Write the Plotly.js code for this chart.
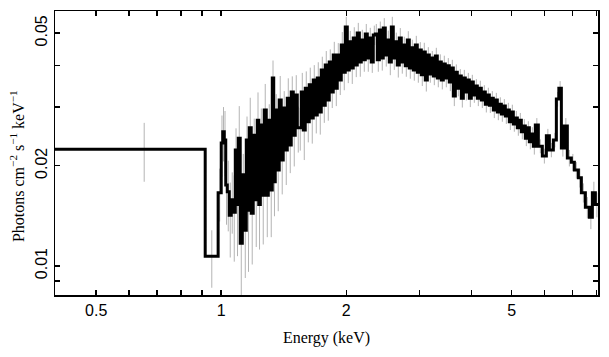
<!DOCTYPE html>
<html>
<head>
<meta charset="utf-8">
<script src="https://cdn.plot.ly/plotly-3.0.1.min.js"></script>
<style>html,body{margin:0;padding:0;background:#fff;}#chart{width:609px;height:357px;}</style>
</head>
<body>
<div id="chart"></div>
<script>
// Bin edges (keV)
const binEdges = [0.39, 0.915, 0.983,
  1.000, 1.0083, 1.017, 1.0253, 1.034, 1.0454, 1.057, 1.0688, 1.081, 1.0898, 1.099, 1.1110, 1.124, 1.1360, 1.149, 1.1583,
  1.168, 1.1808, 1.194, 1.2073, 1.221, 1.2311, 1.242, 1.2553, 1.269, 1.2835, 1.298, 1.3118, 1.327, 1.3376, 1.349, 1.3638,
  1.379, 1.3944, 1.410, 1.4256, 1.442, 1.4579, 1.474, 1.4909, 1.507, 1.5241, 1.541, 1.5582, 1.576, 1.5931, 1.611, 1.6288,
  1.647, 1.6654, 1.684, 1.7027, 1.722, 1.7409, 1.761, 1.7799, 1.800, 1.8198, 1.840, 1.8605, 1.882, 1.9023, 1.924, 1.9450,
  1.967, 1.9886, 2.011, 2.0332, 2.056, 2.0787, 2.102, 2.1253, 2.150, 2.1730, 2.198, 2.2217, 2.247, 2.2716, 2.297, 2.3225,
  2.349, 2.3746, 2.402, 2.4279, 2.455, 2.4823, 2.510, 2.5380, 2.567, 2.5949, 2.624, 2.6531, 2.683, 2.7126, 2.743, 2.7734,
  2.805, 2.8356, 2.868, 2.8992, 2.932, 2.9642, 2.998, 3.0307, 3.065, 3.0987, 3.134, 3.1682, 3.204, 3.2392, 3.276, 3.3119,
  3.349, 3.3861, 3.424, 3.4621, 3.501, 3.5397, 3.580, 3.6191, 3.660, 3.7003, 3.742, 3.7832, 3.826, 3.8681, 3.912, 3.9548,
  3.999, 4.0435, 4.089, 4.1342, 4.181, 4.2269, 4.274, 4.3217, 4.370, 4.4186, 4.468, 4.5177, 4.568, 4.6190, 4.671, 4.7226,
  4.776, 4.8285, 4.883, 4.9368, 4.992, 5.0475, 5.104, 5.1607, 5.218, 5.2764, 5.335, 5.3948, 5.455, 5.5157, 5.577, 5.6394,
  5.702, 5.798, 5.928, 6.061, 6.163, 6.301, 6.407, 6.496, 6.587, 6.697, 6.809, 6.962, 7.079, 7.238, 7.359, 7.524, 7.693,
  7.822, 7.953, 8.087];

// Photon flux per bin (photons cm^-2 s^-1 keV^-1)
const flux = [0.0224, 0.0107, 0.0166,
  0.0234, 0.0253, 0.0239, 0.0175, 0.0167, 0.0142, 0.0158, 0.0145, 0.0223, 0.0153, 0.0242, 0.0117, 0.0188, 0.0128, 0.0239, 0.0147, 0.0260, 0.0144, 0.0247, 0.0158,
  0.0274, 0.0153, 0.0265, 0.0163, 0.0294, 0.0163, 0.0274, 0.0169, 0.0367, 0.0179, 0.0294, 0.0194, 0.0315, 0.0208, 0.0298, 0.0223, 0.0319, 0.0231, 0.0333, 0.0247,
  0.0326, 0.0260,
  0.0260, 0.0333, 0.0256, 0.0342, 0.0271, 0.0350, 0.0278, 0.0362, 0.0284, 0.0367, 0.0290, 0.0388, 0.0304, 0.0401, 0.0315, 0.0410, 0.0333, 0.0430, 0.0342, 0.0430,
  0.0362, 0.0461, 0.0382, 0.0522, 0.0388, 0.0471, 0.0393, 0.0484, 0.0401, 0.0501, 0.0410, 0.0477, 0.0416, 0.0497, 0.0421, 0.0484, 0.0410, 0.0494,
  0.0497, 0.0416, 0.0511, 0.0421, 0.0518, 0.0430, 0.0477, 0.0410, 0.0522, 0.0421, 0.0471, 0.0401, 0.0484, 0.0410, 0.0461, 0.0399, 0.0477, 0.0393, 0.0452, 0.0388,
  0.0461, 0.0382, 0.0445, 0.0375, 0.0439, 0.0362, 0.0430, 0.0377, 0.0421, 0.0372, 0.0427, 0.0367, 0.0410, 0.0362, 0.0404, 0.0367, 0.0399, 0.0357, 0.0393, 0.0324,
  0.0382, 0.0342, 0.0372, 0.0319, 0.0367, 0.0333, 0.0362, 0.0319, 0.0357, 0.0326, 0.0347, 0.0319, 0.0342, 0.0315, 0.0333, 0.0306, 0.0326, 0.0304, 0.0319, 0.0294,
  0.0315, 0.0290, 0.0306, 0.0286, 0.0302, 0.0282, 0.0294, 0.0271, 0.0290, 0.0267, 0.0278, 0.0260, 0.0274, 0.0253, 0.0263, 0.0242, 0.0260, 0.0236, 0.0249, 0.0229,
  0.0265, 0.0229, 0.0214, 0.0246, 0.0223, 0.0239, 0.0317, 0.0342, 0.0226, 0.0263,
  0.0211, 0.0205, 0.0194, 0.0184, 0.0166, 0.0150, 0.0140, 0.0166, 0.0153];

// 1-sigma errors
const fluxErr = [0.0045, 0.0021, 0.0030,
  0.0049, 0.0047, 0.0053, 0.0042, 0.0040, 0.0036, 0.0033, 0.0042, 0.0036, 0.0046, 0.0060, 0.0042, 0.0029, 0.0036, 0.0042, 0.0051, 0.0060, 0.0043, 0.0030, 0.0044,
  0.0058, 0.0041, 0.0032, 0.0047, 0.0058, 0.0041, 0.0032, 0.0047, 0.0047, 0.0038, 0.0034, 0.0048, 0.0057, 0.0044, 0.0037, 0.0048, 0.0047, 0.0041, 0.0038, 0.0048,
  0.0048, 0.0041, 0.0038, 0.0047, 0.0048, 0.0042, 0.0036, 0.0044, 0.0045, 0.0039, 0.0034, 0.0042, 0.0042, 0.0037, 0.0035, 0.0041, 0.0042, 0.0037, 0.0035, 0.0041,
  0.0040, 0.0037, 0.0036, 0.0043, 0.0045, 0.0038, 0.0034, 0.0037, 0.0041, 0.0037, 0.0032, 0.0036, 0.0040, 0.0035, 0.0033, 0.0036, 0.0038, 0.0035, 0.0030, 0.0033,
  0.0036, 0.0033, 0.0031, 0.0035, 0.0037, 0.0033, 0.0032, 0.0036, 0.0038, 0.0033, 0.0031, 0.0033, 0.0034, 0.0032, 0.0027, 0.0029, 0.0030, 0.0028, 0.0026, 0.0028,
  0.0030, 0.0027, 0.0025, 0.0028, 0.0029, 0.0028, 0.0024, 0.0022, 0.0021, 0.0023, 0.0025, 0.0023, 0.0022, 0.0023, 0.0024, 0.0023, 0.0022, 0.0022, 0.0023, 0.0022,
  0.0021, 0.0019, 0.0018, 0.0020, 0.0021, 0.0019, 0.0018, 0.0019, 0.0018, 0.0017, 0.0017, 0.0017, 0.0018, 0.0017, 0.0016, 0.0017, 0.0017, 0.0016, 0.0016, 0.0016,
  0.0016, 0.0016, 0.0015, 0.0015, 0.0015, 0.0015, 0.0015, 0.0015, 0.0015, 0.0014, 0.0014, 0.0014, 0.0014, 0.0013, 0.0013, 0.0013, 0.0012, 0.0012, 0.0012, 0.0013,
  0.0013, 0.0011, 0.0011, 0.0012, 0.0011, 0.0012, 0.0016, 0.0017, 0.0013, 0.0015,
  0.0012, 0.0012, 0.0011, 0.0012, 0.0011, 0.0011, 0.0011, 0.0013, 0.0013];

const xTickVals = [0.5, 0.6, 0.7, 0.8, 0.9, 1, 2, 3, 4, 5, 6, 7, 8];
const xTickText = ['0.5', '', '', '', '', '1', '2', '', '', '5', '', '', ''];
const yTickVals = [0.009, 0.01, 0.02, 0.03, 0.04, 0.05];
const yTickText = ['', '0.01', '0.02', '', '', '0.05'];

const centers = flux.map((_, i) => (binEdges[i] + binEdges[i + 1]) / 2);
const stepY = flux.concat([flux[flux.length - 1]]);

const errTrace = {
  x: centers, y: flux, type: 'scatter', mode: 'markers',
  marker: {size: 1, color: '#b4b4b4'},
  error_y: {type: 'data', array: fluxErr, symmetric: true, color: '#b4b4b4', thickness: 1, width: 0},
  hoverinfo: 'skip', showlegend: false
};
const stepTrace = {
  x: binEdges, y: stepY, type: 'scatter', mode: 'lines',
  line: {shape: 'hv', color: '#000', width: 3},
  showlegend: false
};

const tickFont = {family: '"Liberation Sans", Arial, sans-serif', size: 16, color: '#000'};
const titleFont = {family: '"Liberation Serif", "Times New Roman", serif', size: 16, color: '#000'};

const layout = {
  width: 609, height: 357,
  margin: {l: 55, r: 11, t: 11, b: 62},
  paper_bgcolor: '#fff', plot_bgcolor: '#fff',
  showlegend: false,
  xaxis: {
    type: 'log', range: [Math.log10(0.398), Math.log10(8.07)],
    tickmode: 'array', tickvals: xTickVals, ticktext: xTickText,
    ticks: 'inside', ticklen: 5, tickwidth: 1.5, tickcolor: '#000',
    showline: true, linecolor: '#000', linewidth: 1.5, mirror: 'ticks',
    showgrid: false, zeroline: false, tickfont: tickFont,
    title: {text: 'Energy (keV)', font: titleFont, standoff: 14}
  },
  yaxis: {
    type: 'log', range: [Math.log10(0.00818), Math.log10(0.0583)],
    tickmode: 'array', tickvals: yTickVals, ticktext: yTickText,
    ticks: 'inside', ticklen: 5, tickwidth: 1.5, tickcolor: '#000',
    showline: true, linecolor: '#000', linewidth: 1.5, mirror: 'ticks',
    showgrid: false, zeroline: false, tickfont: tickFont, tickangle: -90,
    title: {text: ''}
  },
  annotations: [{
    text: 'Photons cm<sup>\u22122</sup> s<sup>\u22121</sup> keV<sup>\u22121</sup>',
    xref: 'paper', yref: 'paper', x: -0.07, y: 0.454,
    xanchor: 'center', yanchor: 'middle', textangle: -90, showarrow: false,
    font: titleFont
  }]
};

Plotly.newPlot('chart', [errTrace, stepTrace], layout, {staticPlot: true, displayModeBar: false});
</script>
</body>
</html>
